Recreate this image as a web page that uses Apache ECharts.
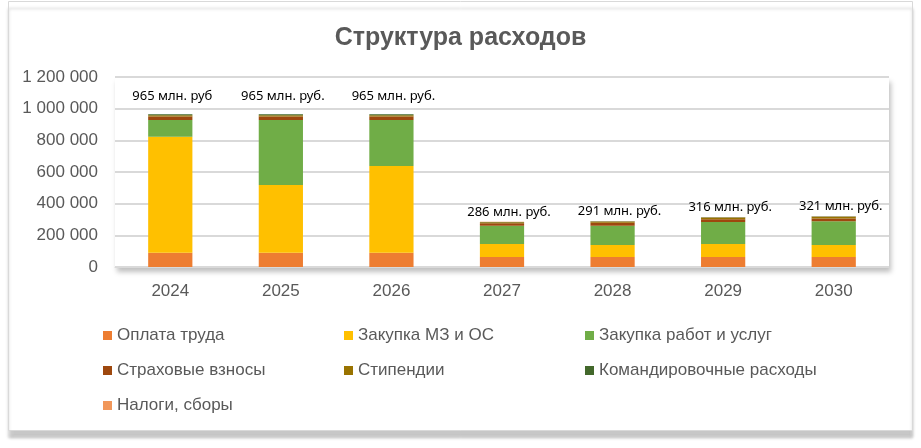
<!DOCTYPE html>
<html><head><meta charset="utf-8">
<script src="https://cdn.jsdelivr.net/npm/echarts@6/dist/echarts.min.js"></script>
<style>html,body{margin:0;padding:0;background:#fff}#c{width:921px;height:448px}</style>
</head><body><div id="c"></div>
<script>
const categories = ['2024','2025','2026','2027','2028','2029','2030'];
const oplataTruda = [90000, 90000, 90000, 63000, 63000, 63000, 63000];
const zakupkaMZ = [733000, 428000, 548000, 82000, 76000, 82000, 76000];
const zakupkaRabot = [105000, 410000, 290000, 116000, 122000, 139000, 150000];
const strakhovye = [22000, 22000, 22000, 15000, 18000, 17000, 18000];
const stipendii = [9000, 9000, 9000, 6000, 7000, 10000, 9000];
const komandirovochnye = [5000, 5000, 5000, 3000, 3000, 3000, 3000];
const nalogi = [1000, 1000, 1000, 1000, 2000, 2000, 2000];
const totalLabels = ['965 млн. руб','965 млн. руб.','965 млн. руб.','286 млн. руб.','291 млн. руб.','316 млн. руб.','321 млн. руб.'];
const yTicks = [0, 200000, 400000, 600000, 800000, 1000000, 1200000];

const names = ['Оплата труда','Закупка МЗ и ОС','Закупка работ и услуг','Страховые взносы','Стипендии','Командировочные расходы','Налоги, сборы'];
const values = [oplataTruda, zakupkaMZ, zakupkaRabot, strakhovye, stipendii, komandirovochnye, nalogi];
const colors = ['#ED7D31','#FFC000','#70AD47','#9E480E','#997300','#43682B','#F1975A'];
const font = "'Liberation Sans', sans-serif";

const series = names.map((n, i) => {
  const s = {
    name: n, type: 'bar', stack: 'total', barCategoryGap: '60%',
    itemStyle: { color: colors[i] },
    data: values[i].slice()
  };
  if (i === names.length - 1) {
    s.data = values[i].map((v, j) => ({
      value: v,
      label: { show: true, position: 'top', distance: 3, offset: [j < 3 ? 2 : 7, j < 3 ? -8 : 0],
        formatter: () => totalLabels[j], color: '#000', fontSize: 13, fontFamily: "'Noto Sans', sans-serif" }
    }));
  }
  return s;
});

const legendBase = {
  orient: 'vertical', icon: 'rect', itemWidth: 9, itemHeight: 9, itemGap: 18,
  textStyle: { color: '#595959', fontSize: 17, fontFamily: font },
  selectedMode: false
};

const chart = echarts.init(document.getElementById('c'));
chart.setOption({
  animation: false,
  backgroundColor: '#fff',
  graphic: [{
    type: 'rect', left: 8, top: 1, shape: { width: 904, height: 429 },
    style: { fill: '#fff', stroke: '#d9d9d9', lineWidth: 1, shadowBlur: 3, shadowColor: 'rgba(0,0,0,0.22)', shadowOffsetX: 0, shadowOffsetY: 7 },
    z: -10
  }],
  title: {
    text: 'Структура расходов', left: 'center', top: 21,
    textStyle: { color: '#595959', fontSize: 25, fontWeight: 'bold', fontFamily: font }
  },
  grid: {
    left: 115, right: 32, top: 77, bottom: 181, show: true, backgroundColor: '#fff', borderWidth: 0,
    shadowBlur: 5, shadowColor: 'rgba(0,0,0,0.25)', shadowOffsetX: 2, shadowOffsetY: 5
  },
  legend: [
    Object.assign({ left: 98, top: 322, data: [names[0], names[3], names[6]] }, legendBase),
    Object.assign({ left: 339, top: 322, data: [names[1], names[4]] }, legendBase),
    Object.assign({ left: 580, top: 322, data: [names[2], names[5]] }, legendBase)
  ],
  xAxis: {
    type: 'category', data: categories,
    axisTick: { show: false },
    axisLine: { lineStyle: { color: '#d9d9d9', width: 1 } },
    axisLabel: { color: '#595959', fontSize: 17, margin: 16, fontFamily: font }
  },
  yAxis: {
    type: 'value', min: 0, max: 1200000, interval: 200000,
    axisLine: { show: false }, axisTick: { show: false },
    splitLine: { lineStyle: { color: '#d9d9d9', width: 2 } },
    axisLabel: {
      color: '#595959', fontSize: 17, margin: 17, fontFamily: font,
      formatter: v => yTicks.includes(v) ? String(v).replace(/\B(?=(\d{3})+(?!\d))/g, ' ') : ''
    }
  },
  series: series
});
</script></body></html>
